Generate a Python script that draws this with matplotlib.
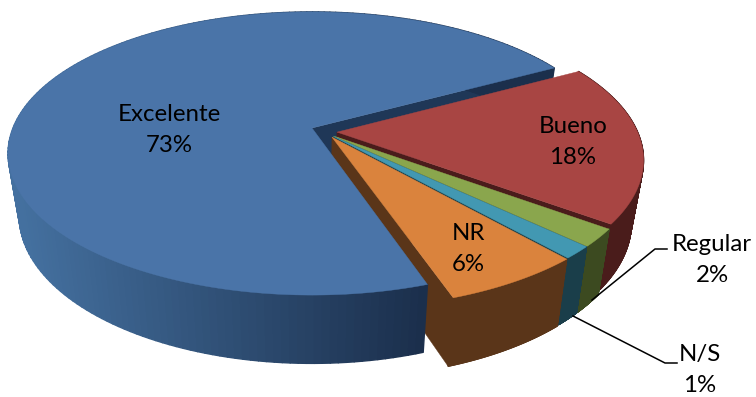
import numpy as np
import matplotlib
matplotlib.use("Agg")
import matplotlib.pyplot as plt
from matplotlib.collections import PolyCollection
from matplotlib.colors import to_rgb

categories = ["Excelente", "Bueno", "Regular", "N/S", "NR"]
values = [72.3, 18.0, 2.0, 1.4, 6.3]
percent_labels = ["73%", "18%", "2%", "1%", "6%"]

top_colors = ["#4a74a8", "#a84543", "#8aa64d", "#4298b2", "#da833d"]
wall_colors = ["#1f3757", "#4a1c1b", "#3c4a20", "#1a3e4a", "#5a3519"]
explode = [(0, 0), (0.083, -0.03), (0.072, -0.058), (0.07, -0.06), (0.066, -0.066)]

start_angle = 28.4
persp = 0.18
cx = 312
top_plane = (128, 299, 137)
bottom_plane = (189, 288, 143)


def project(x, y, plane):
    cy, rx, ry = plane
    w = 1 + persp * y
    return cx + rx * x / w, cy - ry * y / w


def rim(i, a0, a1, plane):
    t = np.radians(np.linspace(a0, a1, 200))
    return project(np.cos(t) + explode[i][0], np.sin(t) + explode[i][1], plane)


def hub(i, plane):
    return project(np.array([explode[i][0]]), np.array([explode[i][1]]), plane)


def wall_color(i, x):
    if i == 0:
        # degradado del borde azul
        f = np.clip((x - 20) / 400, 0, 1)
        return tuple((1 - f) * np.array(to_rgb("#44709f")) + f * np.array(to_rgb("#1b2f4c")))
    return to_rgb(wall_colors[i])


def cut_wall(ax, i, angle):
    x0, y0 = hub(i, top_plane)
    x1, y1 = hub(i, bottom_plane)
    xa, ya = rim(i, angle, angle, top_plane)
    xb, yb = rim(i, angle, angle, bottom_plane)
    ax.fill([x0[0], xa[0], xb[0], x1[0]], [y0[0], ya[0], yb[0], y1[0]],
            color=wall_colors[i], lw=0.3)


def outer_wall(ax, i, a0, a1):
    xt, yt = rim(i, a0, a1, top_plane)
    xb, yb = rim(i, a0, a1, bottom_plane)
    quads = []
    colors = []
    for k in range(len(xt) - 1):
        quads.append([(xt[k], yt[k]), (xt[k + 1], yt[k + 1]), (xb[k + 1], yb[k + 1]), (xb[k], yb[k])])
        colors.append(wall_color(i, xt[k]))
    ax.add_collection(PolyCollection(quads, facecolors=colors, edgecolors=colors, linewidths=1.0))


def top_face(ax, i, a0, a1):
    xt, yt = rim(i, a0, a1, top_plane)
    x0, y0 = hub(i, top_plane)
    ax.fill(np.r_[x0, xt], np.r_[y0, yt], color=top_colors[i], lw=0.3)


fig = plt.figure(figsize=(7.56, 3.97), dpi=100)
ax = fig.add_axes([0, 0, 1, 1])
ax.set_xlim(0, 756)
ax.set_ylim(397, 0)
ax.axis("off")

# Excelente va en sentido antihorario desde el corte, el resto en sentido horario
blue_end = start_angle + 3.6 * values[0]
edges = start_angle - 3.6 * np.r_[0, np.cumsum(values[1:])]

# orden de pintado: primero los cortes interiores, luego el azul, luego el resto
cut_wall(ax, 0, start_angle)
for i in range(1, 5):
    cut_wall(ax, i, edges[i])

outer_wall(ax, 0, start_angle, blue_end)
top_face(ax, 0, start_angle, blue_end)

for i in range(1, 5):
    outer_wall(ax, i, edges[i - 1], edges[i])
    top_face(ax, i, edges[i - 1], edges[i])

# lineas guia
ax.plot([592, 655, 667], [300, 249, 249], color="black", lw=1.1)
ax.plot([573, 665, 677], [316, 363, 363], color="black", lw=1.1)

text_pos = [(169, 130), (573, 142), (712, 260), (700, 370), (468, 249)]
for name, pct, (tx, ty) in zip(categories, percent_labels, text_pos):
    ax.text(tx, ty, f"{name}\n{pct}", ha="center", va="center", fontsize=17.3,
            family="Lato", color="black", linespacing=1.6)

fig.savefig("out.png", dpi=100)
